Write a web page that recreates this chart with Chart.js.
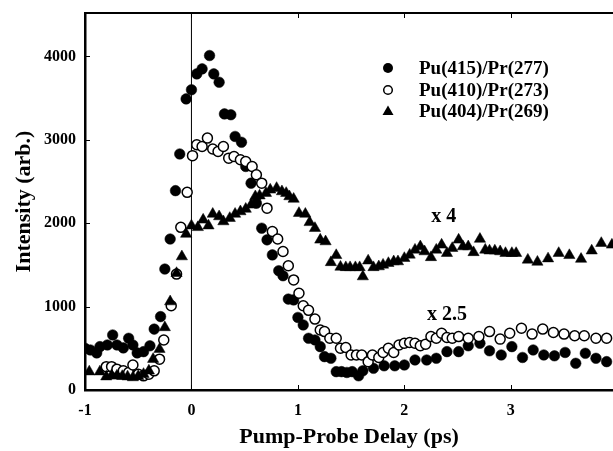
<!DOCTYPE html>
<html lang="en">
<head>
<meta charset="UTF-8">
<script src="https://cdn.jsdelivr.net/npm/chart.js"></script>
<title>Pump-Probe</title>
<style>
  html, body { margin: 0; padding: 0; background: #fff; }
  #wrap { width: 613px; height: 451px; }
</style>
</head>
<body>
<div id="wrap"><canvas id="myChart" width="613" height="451"></canvas></div>
<script>
// Pu(415)/Pr(277) - filled circles
const pu415X = [-1.0, -0.95, -0.89, -0.86, -0.79, -0.74, -0.7, -0.64, -0.59, -0.55, -0.51, -0.45, -0.39, -0.35, -0.29, -0.25, -0.2, -0.15, -0.11, -0.05, 0.0, 0.05, 0.1, 0.17, 0.21, 0.26, 0.31, 0.37, 0.41, 0.47, 0.51, 0.56, 0.61, 0.66, 0.71, 0.76, 0.82, 0.86, 0.91, 0.96, 1.0, 1.05, 1.1, 1.16, 1.21, 1.25, 1.31, 1.36, 1.41, 1.46, 1.51, 1.57, 1.61, 1.71, 1.81, 1.91, 2.0, 2.1, 2.21, 2.3, 2.4, 2.51, 2.6, 2.71, 2.8, 2.91, 3.01, 3.11, 3.21, 3.31, 3.41, 3.51, 3.61, 3.7, 3.8, 3.9];
const pu415Y = [500, 480, 445, 520, 540, 660, 540, 505, 620, 540, 445, 460, 530, 730, 880, 1450, 1810, 2390, 2830, 3490, 3600, 3790, 3850, 4010, 3790, 3690, 3310, 3300, 3040, 2970, 2680, 2480, 2240, 1940, 1800, 1620, 1430, 1370, 1090, 1080, 870, 780, 620, 600, 520, 400, 380, 220, 220, 210, 220, 170, 230, 260, 290, 290, 300, 360, 360, 380, 460, 460, 530, 560, 470, 420, 520, 390, 480, 420, 410, 450, 320, 440, 380, 340];

// Pu(410)/Pr(273) - open circles
const pu410X = [-0.8, -0.75, -0.7, -0.64, -0.59, -0.55, -0.5, -0.45, -0.4, -0.35, -0.3, -0.26, -0.19, -0.14, -0.1, -0.04, 0.01, 0.05, 0.1, 0.15, 0.2, 0.25, 0.3, 0.35, 0.4, 0.46, 0.51, 0.57, 0.61, 0.66, 0.71, 0.76, 0.81, 0.86, 0.91, 0.96, 1.01, 1.05, 1.1, 1.16, 1.21, 1.25, 1.3, 1.36, 1.4, 1.45, 1.5, 1.55, 1.6, 1.66, 1.7, 1.76, 1.8, 1.85, 1.9, 1.95, 2.0, 2.05, 2.1, 2.15, 2.2, 2.25, 2.3, 2.35, 2.4, 2.45, 2.51, 2.6, 2.7, 2.8, 2.9, 2.99, 3.1, 3.2, 3.3, 3.4, 3.5, 3.6, 3.69, 3.8, 3.9];
const pu410Y = [280, 280, 250, 230, 210, 300, 190, 170, 190, 230, 370, 600, 1010, 1390, 1950, 2370, 2810, 2940, 2920, 3020, 2890, 2860, 2920, 2780, 2800, 2760, 2740, 2680, 2580, 2480, 2180, 1900, 1810, 1660, 1490, 1320, 1160, 1010, 955, 850, 720, 700, 620, 620, 500, 510, 420, 420, 420, 340, 420, 390, 450, 500, 450, 540, 560, 570, 560, 530, 550, 640, 620, 680, 630, 620, 640, 620, 640, 700, 610, 680, 740, 670, 730, 690, 670, 650, 650, 620, 620];

// Pu(404)/Pr(269) - triangles
const pu404X = [-0.96, -0.86, -0.8, -0.75, -0.7, -0.65, -0.6, -0.55, -0.5, -0.45, -0.4, -0.36, -0.3, -0.25, -0.2, -0.14, -0.09, -0.05, 0.0, 0.06, 0.11, 0.16, 0.2, 0.26, 0.3, 0.36, 0.41, 0.46, 0.51, 0.56, 0.6, 0.64, 0.7, 0.74, 0.8, 0.85, 0.89, 0.92, 0.96, 1.01, 1.07, 1.11, 1.16, 1.21, 1.26, 1.31, 1.36, 1.4, 1.45, 1.49, 1.54, 1.58, 1.61, 1.66, 1.71, 1.76, 1.8, 1.85, 1.9, 1.94, 2.0, 2.05, 2.1, 2.15, 2.19, 2.25, 2.3, 2.35, 2.4, 2.45, 2.51, 2.55, 2.6, 2.65, 2.71, 2.76, 2.8, 2.85, 2.9, 2.95, 3.01, 3.05, 3.16, 3.25, 3.35, 3.45, 3.55, 3.66, 3.76, 3.85, 3.95];
const pu404Y = [220, 220, 160, 175, 170, 165, 160, 150, 165, 190, 230, 370, 490, 750, 1060, 1400, 1600, 1870, 1970, 1950, 2040, 1970, 2110, 2080, 2020, 2060, 2110, 2140, 2170, 2220, 2320, 2330, 2360, 2400, 2420, 2380, 2360, 2320, 2290, 2120, 2110, 2010, 1940, 1800, 1780, 1530, 1615, 1475, 1470, 1470, 1470, 1470, 1360, 1550, 1470, 1480, 1500, 1520, 1540, 1540, 1580, 1620, 1680, 1720, 1660, 1590, 1680, 1740, 1640, 1700, 1800, 1720, 1720, 1650, 1810, 1680, 1670, 1670, 1660, 1640, 1640, 1640, 1560, 1535, 1575, 1640, 1615, 1570, 1670, 1760, 1740];

const seriesNames = ['Pu(415)/Pr(277)', 'Pu(410)/Pr(273)', 'Pu(404)/Pr(269)'];
const xTicks = [-1, 0, 1, 2, 3];
const yTicks = [0, 1000, 2000, 3000, 4000];

function punkte(xs, ys) {
    return xs.map(function (x, i) { return { x: x, y: ys[i] }; });
}

const serif = "'Liberation Serif', 'Times New Roman', serif";
Chart.defaults.font.family = serif;
Chart.defaults.font.weight = 'bold';
Chart.defaults.color = '#000';

// top frame, inward ticks, legend and scale factor notes
const extras = {
    id: 'extras',
    afterDraw(chart) {
        const ctx = chart.ctx;
        const a = chart.chartArea;
        const sx = chart.scales.x, sy = chart.scales.y;
        ctx.save();
        ctx.strokeStyle = '#000';
        ctx.lineWidth = 2;
        ctx.beginPath();
        ctx.moveTo(a.left, a.top);
        ctx.lineTo(a.right, a.top);
        ctx.stroke();

        ctx.lineWidth = 1;
        ctx.beginPath();
        xTicks.forEach(function (t) {
            if (t === -1) return;
            const px = Math.round(sx.getPixelForValue(t)) + 0.5;
            ctx.moveTo(px, a.bottom); ctx.lineTo(px, a.bottom - 5);
            ctx.moveTo(px, a.top); ctx.lineTo(px, a.top + 5);
        });
        yTicks.forEach(function (t) {
            const py = Math.round(sy.getPixelForValue(t)) + 0.5;
            ctx.moveTo(a.left, py); ctx.lineTo(a.left + 5, py);
        });
        ctx.stroke();

        // legend
        const lx = 388, ly = [68, 90, 111];
        ctx.fillStyle = '#000';
        ctx.beginPath(); ctx.arc(lx, ly[0], 5, 0, Math.PI * 2); ctx.fill();
        ctx.lineWidth = 1.5;
        ctx.beginPath(); ctx.arc(lx, ly[1], 4.3, 0, Math.PI * 2); ctx.stroke();
        ctx.beginPath();
        ctx.moveTo(lx, ly[2] - 5.5); ctx.lineTo(lx + 5.5, ly[2] + 4); ctx.lineTo(lx - 5.5, ly[2] + 4);
        ctx.closePath(); ctx.fill();
        ctx.font = 'bold 19px ' + serif;
        ctx.textAlign = 'left';
        ctx.textBaseline = 'middle';
        seriesNames.forEach(function (n, i) { ctx.fillText(n, 419, ly[i] + 1); });

        ctx.font = 'bold 20px ' + serif;
        ctx.textAlign = 'center';
        ctx.fillText('x 4', sx.getPixelForValue(2.37), sy.getPixelForValue(2076));
        ctx.fillText('x 2.5', sx.getPixelForValue(2.4), sy.getPixelForValue(900));
        ctx.restore();
    }
};

const config = {
    type: 'scatter',
    data: {
        datasets: [
            {
                label: seriesNames[2],
                data: punkte(pu404X, pu404Y),
                pointStyle: 'triangle',
                pointRadius: 6.5,
                backgroundColor: '#000',
                borderColor: '#000',
                borderWidth: 0.5,
                order: 1
            },
            {
                label: seriesNames[1],
                data: punkte(pu410X, pu410Y),
                pointStyle: 'circle',
                pointRadius: 5,
                backgroundColor: '#fff',
                borderColor: '#000',
                borderWidth: 1.5,
                order: 2
            },
            {
                label: seriesNames[0],
                data: punkte(pu415X, pu415Y),
                pointStyle: 'circle',
                pointRadius: 5.3,
                backgroundColor: '#000',
                borderColor: '#000',
                borderWidth: 0.5,
                order: 3
            },
            {
                type: 'line',
                label: 'zero',
                data: [{ x: 0, y: 0 }, { x: 0, y: 4520 }],
                borderColor: '#000',
                borderWidth: 1,
                pointRadius: 0,
                order: 4
            }
        ]
    },
    options: {
        responsive: false,
        animation: false,
        events: [],
        layout: { autoPadding: false, padding: { top: 13, right: 0, left: 0, bottom: 0 } },
        plugins: { legend: { display: false }, tooltip: { enabled: false } },
        scales: {
            x: {
                type: 'linear',
                min: -1,
                max: 3.96,
                afterBuildTicks: function (s) { s.ticks = xTicks.map(function (v) { return { value: v }; }); },
                afterFit: function (s) { s.height = 61; s.paddingLeft = 0; s.paddingRight = 0; },
                grid: { display: false, drawTicks: false },
                border: { display: true, color: '#000', width: 2.5 },
                ticks: {
                    autoSkip: false,
                    maxRotation: 0,
                    padding: 11,
                    font: { size: 16, weight: 'bold' },
                    callback: function (v) { return String(v); }
                },
                title: {
                    display: true,
                    text: 'Pump-Probe Delay (ps)',
                    font: { size: 22, weight: 'bold' },
                    padding: { top: 0, bottom: 0 }
                }
            },
            y: {
                min: 0,
                max: 4520,
                afterBuildTicks: function (s) { s.ticks = yTicks.map(function (v) { return { value: v }; }); },
                afterFit: function (s) { s.width = 85; s.paddingTop = 0; s.paddingBottom = 0; },
                grid: { display: false, drawTicks: false },
                border: { display: true, color: '#000', width: 2.5 },
                ticks: {
                    autoSkip: false,
                    padding: 9,
                    font: { size: 16, weight: 'bold' },
                    callback: function (v) { return String(v); }
                },
                title: {
                    display: true,
                    text: 'Intensity (arb.)',
                    font: { size: 22, weight: 'bold' },
                    padding: { top: 11, bottom: 0 }
                }
            }
        }
    },
    plugins: [extras]
};

new Chart(document.getElementById('myChart').getContext('2d'), config);
</script>
</body>
</html>
